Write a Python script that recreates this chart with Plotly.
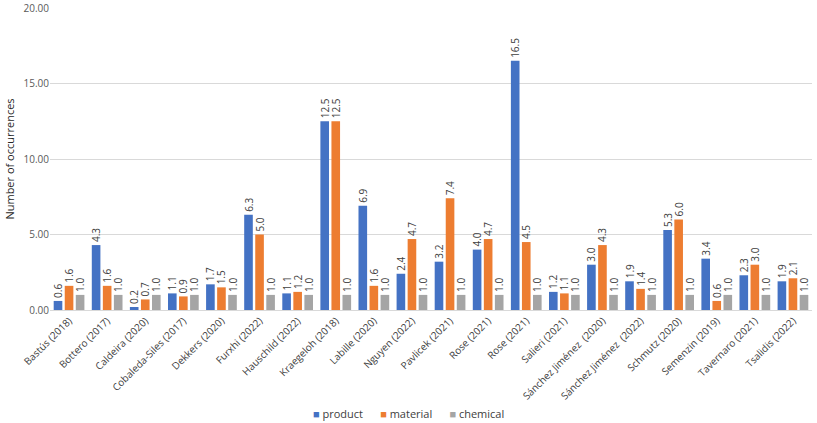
import plotly.graph_objects as go

categories = ["Bastús (2018)", "Bottero (2017)", "Caldeira (2020)", "Cobaleda-Siles (2017)",
              "Dekkers (2020)", "Furxhi (2022)", "Hauschild (2022)", "Kraegeloh (2018)",
              "Labille (2020)", "Nguyen (2022)", "Pavlicek (2021)", "Rose (2021)", "Rose (2021)",
              "Salieri (2021)", "Sánchez Jiménez  (2020)", "Sánchez Jiménez  (2022)",
              "Schmutz (2020)", "Semenzin (2019)", "Tavernaro (2021)", "Tsalidis (2022)"]
product = [0.6, 4.3, 0.2, 1.1, 1.7, 6.3, 1.1, 12.5, 6.9, 2.4, 3.2, 4.0, 16.5, 1.2, 3.0, 1.9, 5.3, 3.4, 2.3, 1.9]
material = [1.6, 1.6, 0.7, 0.9, 1.5, 5.0, 1.2, 12.5, 1.6, 4.7, 7.4, 4.7, 4.5, 1.1, 4.3, 1.4, 6.0, 0.6, 3.0, 2.1]
chemical = [1.0] * 20
y_ticks = [0, 5, 10, 15, 20]

series = [("product", product, "#4472C4"), ("material", material, "#ED7D31"), ("chemical", chemical, "#A5A5A5")]
xs = list(range(len(categories)))

fig = go.Figure()
for name, vals, col in series:
    fig.add_trace(go.Bar(
        x=xs, y=vals, name=name, marker=dict(color=col, line=dict(width=0)),
        text=[f"{v:.1f}" for v in vals], textposition="outside", textangle=-90,
        textfont=dict(family="Open Sans", size=10, color="#404040"),
        cliponaxis=False, showlegend=False,
    ))

legend_text = "      ".join(
    f"<span style='color:{col}'>■</span> {name}" for name, _, col in series
)
fig.add_annotation(
    x=(408 - 50) / (812 - 50), xref="x domain", y=-0.343, yref="paper", showarrow=False,
    text=legend_text, font=dict(family="Open Sans", size=11, color="#404040"),
    xanchor="center", yanchor="middle",
)

fig.update_layout(
    width=817, height=423,
    margin=dict(l=50, r=5, t=8, b=113),
    paper_bgcolor="white", plot_bgcolor="white",
    barmode="group", bargap=0.13, bargroupgap=0.22,
    font=dict(family="Open Sans", size=10, color="#595959"),
    uniformtext=dict(minsize=9, mode="show"),
)
fig.update_xaxes(
    tickmode="array", tickvals=xs, ticktext=categories, tickangle=-45,
    range=[-0.5, len(categories) - 0.5], showgrid=False, automargin=False,
    showline=True, linecolor="#D9D9D9", ticks="",
    tickfont=dict(size=10, color="#404040"),
)
fig.update_yaxes(
    range=[0, 20], tickvals=y_ticks, tickformat=".2f", automargin=False,
    showgrid=True, gridcolor="#D9D9D9", zeroline=False,
    title=dict(text="Number of occurrences", font=dict(size=11, color="#262626"), standoff=6),
    tickfont=dict(size=10, color="#595959"),
)

fig.write_html("out.html", config={"displayModeBar": False},
               post_script="document.body.style.margin='0';document.body.style.overflow='hidden';")
